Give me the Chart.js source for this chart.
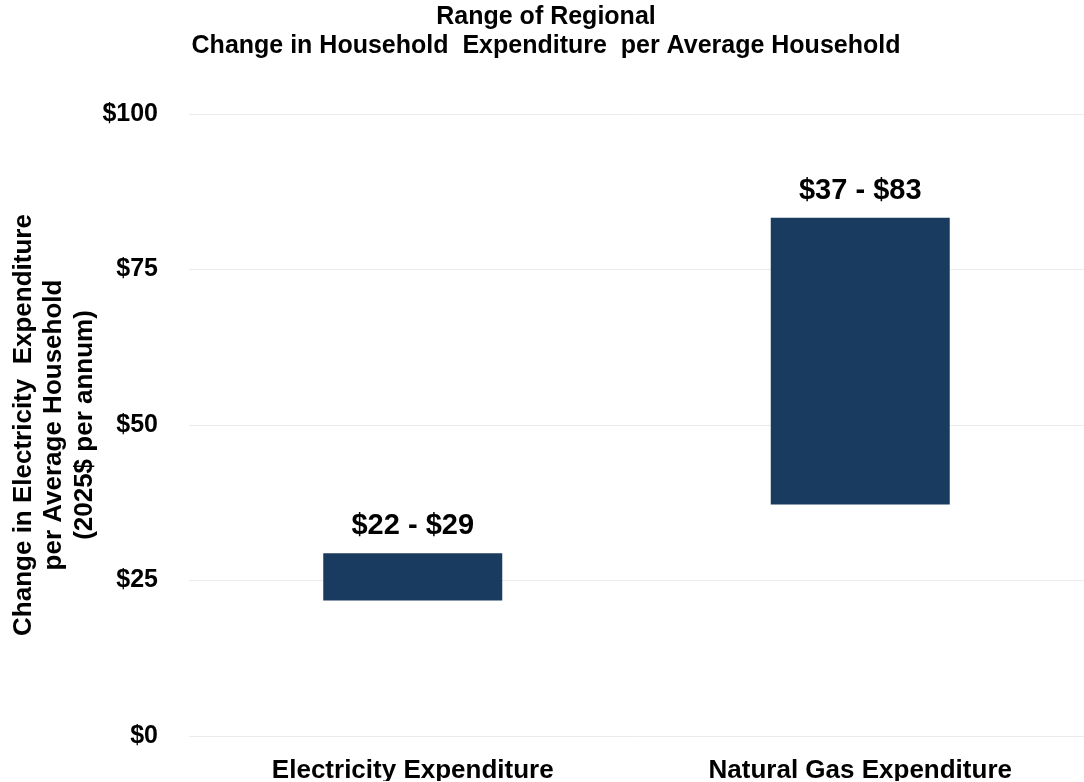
<!DOCTYPE html>
<html>
<head>
<meta charset="utf-8">
<script src="https://cdn.jsdelivr.net/npm/chart.js@4"></script>
<style>
    html, body { margin: 0; padding: 0; background: #fff; }
    #wrap { width: 1084px; height: 782px; }
</style>
</head>
<body>
<div id="wrap"><canvas id="rangeChart"></canvas></div>
<script>
const categories = ['Electricity Expenditure', 'Natural Gas Expenditure'];
const lowValues = [21.8, 37.2];
const highValues = [29.4, 83.3];
const yTicks = [0, 25, 50, 75, 100];

const FONT = "'Liberation Sans', Arial, sans-serif";
const barColor = '#193b5f';

// labels drawn over each floating bar, e.g. "$22 - $29"
const rangeLabelPlugin = {
    id: 'rangeLabels',
    afterDatasetsDraw(chart) {
        const ctx = chart.ctx;
        const meta = chart.getDatasetMeta(0);
        ctx.save();
        ctx.font = `bold 29px ${FONT}`;
        ctx.fillStyle = '#000';
        ctx.textAlign = 'center';
        ctx.textBaseline = 'middle';
        meta.data.forEach((bar, i) => {
            const text = `$${Math.round(lowValues[i])} - $${Math.round(highValues[i])}`;
            ctx.fillText(text, bar.x, bar.y - 27);
        });
        ctx.restore();
    }
};

const ctx = document.getElementById('rangeChart').getContext('2d');
new Chart(ctx, {
    type: 'bar',
    data: {
        labels: categories,
        datasets: [{
            label: 'Range',
            data: categories.map((c, i) => [lowValues[i], highValues[i]]),
            backgroundColor: barColor,
            borderWidth: 0,
            barPercentage: 0.4,
            categoryPercentage: 1
        }]
    },
    options: {
        responsive: true,
        maintainAspectRatio: false,
        animation: false,
        layout: { padding: { left: 8, right: 0, top: 0, bottom: 0 } },
        plugins: {
            legend: { display: false },
            tooltip: { enabled: false },
            title: {
                display: true,
                text: ['Range of Regional', 'Change in Household  Expenditure  per Average Household'],
                color: '#000',
                font: { family: FONT, size: 25, weight: 'bold', lineHeight: 1.16 },
                padding: { top: 3, bottom: 53 }
            }
        },
        scales: {
            x: {
                grid: { display: false, drawTicks: false },
                border: { display: false },
                ticks: {
                    color: '#000',
                    padding: 19,
                    font: { family: FONT, size: 26, weight: 'bold' }
                },
                afterFit: (scale) => { scale.height = 45; }
            },
            y: {
                min: 0,
                max: 100,
                afterBuildTicks: (scale) => { scale.ticks = yTicks.map((v) => ({ value: v })); },
                grid: { color: '#ebebeb', lineWidth: 1, drawTicks: false },
                border: { display: false },
                ticks: {
                    color: '#000',
                    padding: 31,
                    font: { family: FONT, size: 25, weight: 'bold' },
                    callback: (value) => `$${value}`
                },
                title: {
                    display: true,
                    text: ['Change in Electricity  Expenditure', 'per Average Household', '(2025$ per annum)'],
                    color: '#000',
                    font: { family: FONT, size: 26, weight: 'bold', lineHeight: 1.18 },
                    padding: { top: 0, bottom: 0 }
                },
                afterFit: (scale) => { scale.width = 181; }
            }
        }
    },
    plugins: [rangeLabelPlugin]
});
</script>
</body>
</html>
